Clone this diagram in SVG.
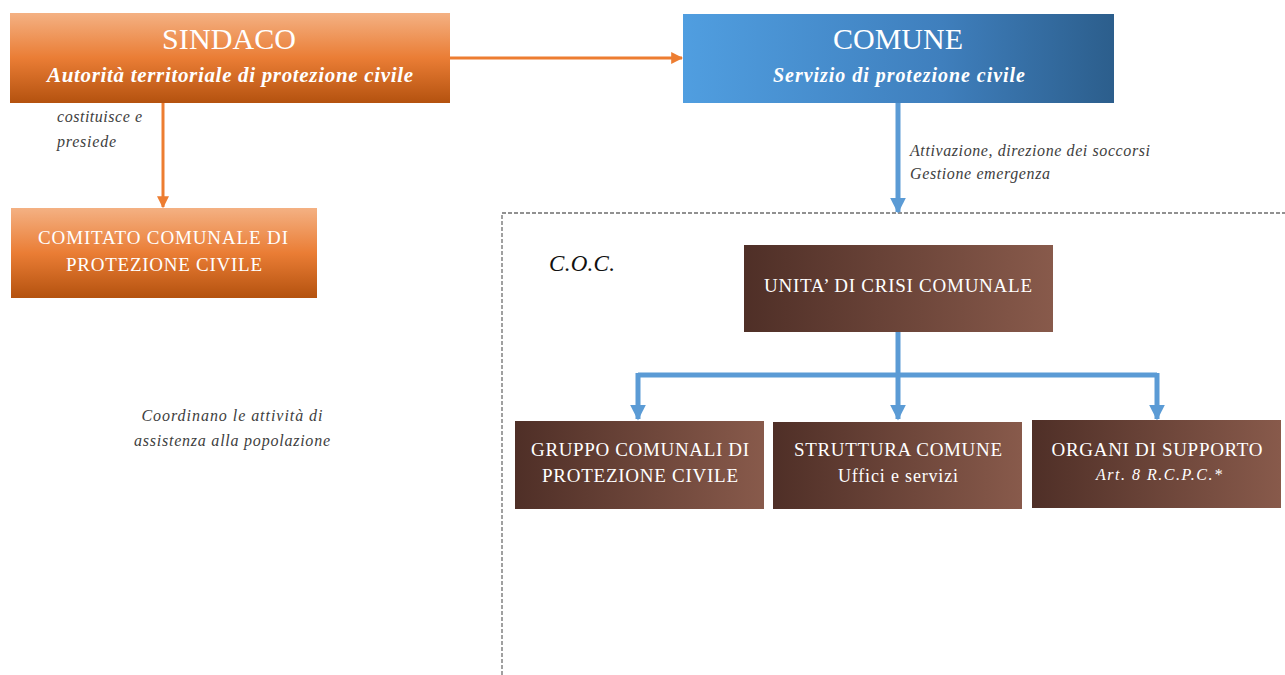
<svg xmlns="http://www.w3.org/2000/svg" width="1285" height="675" viewBox="0 0 1285 675">
<defs>
<linearGradient id="gOrange" x1="0" y1="0" x2="0" y2="1">
<stop offset="0" stop-color="#f4b183"/>
<stop offset="0.5" stop-color="#ea7d35"/>
<stop offset="1" stop-color="#b4520f"/>
</linearGradient>
<linearGradient id="gBlue" x1="0" y1="0" x2="1" y2="0">
<stop offset="0" stop-color="#509ee0"/>
<stop offset="0.6" stop-color="#3f7fbd"/>
<stop offset="1" stop-color="#2c5e8c"/>
</linearGradient>
<linearGradient id="gBrown" x1="0" y1="0" x2="1" y2="0">
<stop offset="0" stop-color="#4f2f27"/>
<stop offset="1" stop-color="#885a4b"/>
</linearGradient>
<marker id="aOrange" viewBox="0 0 10 10" refX="9" refY="5" markerWidth="4" markerHeight="4" orient="auto" markerUnits="strokeWidth">
<path d="M0,0 L10,5 L0,10 Z" fill="#ed7d31"/>
</marker>
<marker id="aBlue" viewBox="0 0 10 10" refX="9" refY="5" markerWidth="3.2" markerHeight="3.2" orient="auto" markerUnits="strokeWidth">
<path d="M0,0 L10,5 L0,10 Z" fill="#5b9bd5"/>
</marker>
</defs>
<style>
.box text{fill:#ffffff;font-family:"Liberation Serif",serif;text-anchor:middle}
.cap{font-size:19px}
.lbl{fill:#404040;font-family:"Liberation Serif",serif;font-style:italic;font-size:16px}
.orange{stroke:#ed7d31;stroke-width:3;fill:none}
.blue{stroke:#5b9bd5;stroke-width:5;fill:none}
</style>
<rect width="1285" height="675" fill="#ffffff"/>
<g id="coc-frame">
<path d="M502,675 L502,213 L1285,213" fill="none" stroke="#6e6e6e" stroke-width="1.3" stroke-dasharray="4,2"/>
<text x="549" y="271" font-family="Liberation Serif,serif" font-style="italic" font-size="23" fill="#111" textLength="66">C.O.C.</text>
</g>
<g id="connectors">
<line class="orange" x1="450" y1="58" x2="682" y2="58" marker-end="url(#aOrange)"/>
<line class="orange" x1="163" y1="103" x2="163" y2="207" marker-end="url(#aOrange)"/>
<line class="blue" x1="898" y1="103" x2="898" y2="212" marker-end="url(#aBlue)"/>
<path class="blue" d="M898,332 L898,375"/>
<path class="blue" d="M638,375 L1157,375"/>
<line class="blue" x1="638" y1="373" x2="638" y2="419" marker-end="url(#aBlue)"/>
<line class="blue" x1="898" y1="373" x2="898" y2="419" marker-end="url(#aBlue)"/>
<line class="blue" x1="1157" y1="373" x2="1157" y2="419" marker-end="url(#aBlue)"/>
<text class="lbl" x="57" y="122" textLength="85">costituisce e</text>
<text class="lbl" x="57" y="147" textLength="59">presiede</text>
<text class="lbl" x="910" y="156" textLength="240">Attivazione, direzione dei soccorsi</text>
<text class="lbl" x="910" y="179" textLength="140">Gestione emergenza</text>
</g>
<g id="sindaco" class="box">
<rect x="10" y="13" width="440" height="90" fill="url(#gOrange)"/>
<text x="229" y="49" font-size="30" textLength="134">SINDACO</text>
<text x="230" y="82" font-size="21" font-weight="bold" font-style="italic" textLength="366">Autorità territoriale  di protezione civile</text>
</g>
<g id="comune" class="box">
<rect x="683" y="14" width="431" height="89" fill="url(#gBlue)"/>
<text x="898" y="49" font-size="30" textLength="130">COMUNE</text>
<text x="899" y="82" font-size="20" font-weight="bold" font-style="italic" textLength="252">Servizio di protezione civile</text>
</g>
<g id="comitato" class="box">
<rect x="11" y="208" width="306" height="90" fill="url(#gOrange)"/>
<text class="cap" x="163" y="244" textLength="250">COMITATO COMUNALE DI</text>
<text class="cap" x="164" y="271" textLength="196">PROTEZIONE  CIVILE</text>
</g>
<g id="coordinano">
<text class="lbl" x="232" y="421" text-anchor="middle" textLength="181">Coordinano le attività di</text>
<text class="lbl" x="232" y="446" text-anchor="middle" textLength="196">assistenza alla popolazione</text>
</g>
<g id="unita" class="box">
<rect x="744" y="245" width="309" height="87" fill="url(#gBrown)"/>
<text class="cap" x="898" y="292" textLength="268">UNITA’ DI CRISI COMUNALE</text>
</g>
<g id="gruppo" class="box">
<rect x="515" y="421" width="249" height="88" fill="url(#gBrown)"/>
<text class="cap" x="640" y="456" textLength="218">GRUPPO COMUNALI DI</text>
<text class="cap" x="640" y="482" textLength="196">PROTEZIONE  CIVILE</text>
</g>
<g id="struttura" class="box">
<rect x="773" y="422" width="249" height="87" fill="url(#gBrown)"/>
<text class="cap" x="898" y="456" textLength="208">STRUTTURA  COMUNE</text>
<text x="898" y="482" font-size="18" textLength="120">Uffici e servizi</text>
</g>
<g id="organi" class="box">
<rect x="1032" y="420" width="249" height="88" fill="url(#gBrown)"/>
<text class="cap" x="1157" y="456" textLength="211">ORGANI DI SUPPORTO</text>
<text x="1159" y="480" font-size="16" font-style="italic" textLength="126">Art.  8  R.C.P.C.*</text>
</g>
</svg>
